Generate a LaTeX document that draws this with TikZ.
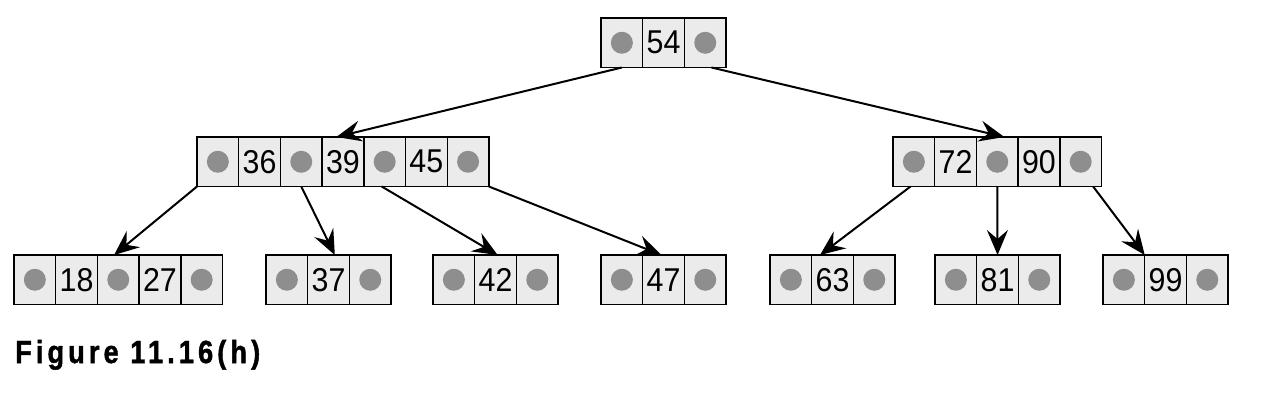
\documentclass[tikz,border=0pt]{standalone}
\usepackage{fontspec}
\setmainfont{Liberation Sans}
\usetikzlibrary{calc,arrows.meta}
\definecolor{cellfill}{HTML}{EBEBEB}
\definecolor{dotgray}{HTML}{8E8E8E}
\newcommand{\cnum}[1]{\scalebox{0.92}[1]{#1}}
\begin{document}
\begin{tikzpicture}[x=1pt,y=-1pt,
  cellbox/.style={draw=black,line width=1.4pt,fill=cellfill,minimum width=41.7pt,
    minimum height=49.5pt,inner sep=0pt,outer sep=0pt,anchor=north west,
    font=\fontsize{33}{33}\selectfont},
  ptr/.style={cellbox,path picture={\fill[dotgray] (path picture bounding box.center) circle[radius=11pt];}},
  link/.style={line width=2pt,-{Stealth[length=25pt,width=21pt,inset=9pt]}},
  captext/.style={anchor=base west,inner sep=0pt,font=\bfseries\fontsize{32}{32}\selectfont}]
\useasboundingbox (0,0) rectangle (1276,400);
% root
\node[ptr] (r1) at (601,18) {};
\node[cellbox] (r2) at (r1.north east) {\cnum{54}};
\node[ptr] (r3) at (r2.north east) {};
% left middle
\node[ptr] (a1) at (197,137) {};
\node[cellbox] (a2) at (a1.north east) {\cnum{36}};
\node[ptr] (a3) at (a2.north east) {};
\node[cellbox] (a4) at (a3.north east) {\cnum{39}};
\node[ptr] (a5) at (a4.north east) {};
\node[cellbox] (a6) at (a5.north east) {\cnum{45}};
\node[ptr] (a7) at (a6.north east) {};
% right middle
\node[ptr] (b1) at (893,137) {};
\node[cellbox] (b2) at (b1.north east) {\cnum{72}};
\node[ptr] (b3) at (b2.north east) {};
\node[cellbox] (b4) at (b3.north east) {\cnum{90}};
\node[ptr] (b5) at (b4.north east) {};
% leaves
\node[ptr] (c1) at (14,255) {};
\node[cellbox] (c2) at (c1.north east) {\cnum{18}};
\node[ptr] (c3) at (c2.north east) {};
\node[cellbox] (c4) at (c3.north east) {\cnum{27}};
\node[ptr] (c5) at (c4.north east) {};
\node[ptr] (d1) at (266,255) {};
\node[cellbox] (d2) at (d1.north east) {\cnum{37}};
\node[ptr] (d3) at (d2.north east) {};
\node[ptr] (e1) at (433,255) {};
\node[cellbox] (e2) at (e1.north east) {\cnum{42}};
\node[ptr] (e3) at (e2.north east) {};
\node[ptr] (f1) at (601,255) {};
\node[cellbox] (f2) at (f1.north east) {\cnum{47}};
\node[ptr] (f3) at (f2.north east) {};
\node[ptr] (g1) at (770,255) {};
\node[cellbox] (g2) at (g1.north east) {\cnum{63}};
\node[ptr] (g3) at (g2.north east) {};
\node[ptr] (h1) at (935,255) {};
\node[cellbox] (h2) at (h1.north east) {\cnum{81}};
\node[ptr] (h3) at (h2.north east) {};
\node[ptr] (i1) at (1103,255) {};
\node[cellbox] (i2) at (i1.north east) {\cnum{99}};
\node[ptr] (i3) at (i2.north east) {};
% connectors
\draw[link] (r1.south) -- ($(a4.north west)!0.34!(a4.north east)$);
\draw[link] ($(r3.south west)!0.65!(r3.south east)$) -- ($(b3.north west)!0.67!(b3.north east)$);
\draw[link] (a1.south west) -- ($(c3.north west)!0.4!(c3.north east)$);
\draw[link] (a3.south) -- ($(d2.north west)!0.65!(d2.north east)$);
\draw[link] ($(a5.south west)!0.43!(a5.south east)$) -- ($(e2.north west)!0.55!(e2.north east)$);
\draw[link] (a7.south east) -- ($(f2.north west)!0.45!(f2.north east)$);
\draw[link] ($(b1.south west)!0.42!(b1.south east)$) -- ($(g2.north west)!0.2!(g2.north east)$);
\draw[link] (b3.south) -- (h2.north);
\draw[link] ($(b5.south west)!0.8!(b5.south east)$) -- (i1.north east);
% caption
\node[captext] (cap) at (15,363) {\addfontfeature{LetterSpace=15,FakeBold=1.5}\scalebox{0.85}[1]{Figure 11.16(h)}};
\end{tikzpicture}
\end{document}
